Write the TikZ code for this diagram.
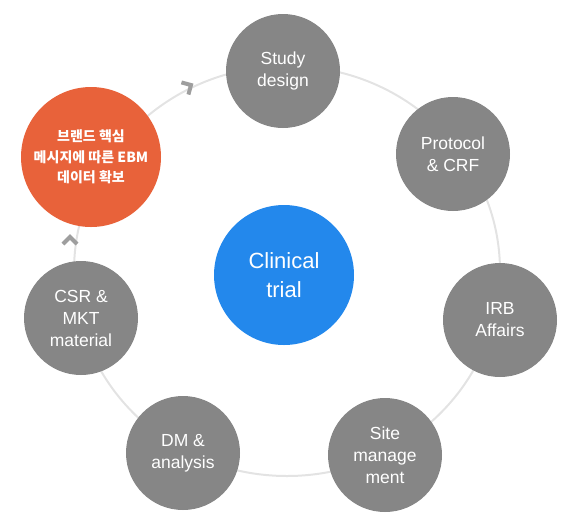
\documentclass[tikz,border=0pt]{standalone}
\usepackage{fontspec}
\setmainfont{Liberation Sans}
\newfontfamily\krfont{Noto Sans CJK KR}
\usetikzlibrary{positioning}
\definecolor{stagegray}{HTML}{868686}
\definecolor{brandorange}{HTML}{E8623A}
\definecolor{trialblue}{HTML}{2388EC}
\definecolor{ringgray}{HTML}{E3E3E3}
\tikzset{
	stage/.style={circle,fill=stagegray,text=white,minimum size=114pt,inner sep=0pt,align=center,font=\fontsize{17.5}{22}\selectfont},
	brand/.style={circle,fill=brandorange,text=white,minimum size=140pt,inner sep=0pt,align=center,font=\krfont\bfseries\fontsize{14}{20.5}\selectfont},
	hub/.style={circle,fill=trialblue,text=white,minimum size=140pt,inner sep=0pt,align=center,font=\fontsize{22}{29}\selectfont},
	ring/.style={ringgray,line width=2pt},
	chevron/.style={stagegray!80,line width=4pt,line join=miter,line cap=butt}
}

\begin{document}
\begin{tikzpicture}[x=1pt,y=-1pt]
	\useasboundingbox (0,0) rectangle (570,523);
	
	% -------------------------------------------------
	% 1. Ring behind the stages
	% -------------------------------------------------
	\coordinate (C) at (287,271);
	\draw[ring] (C) ellipse[x radius=213,y radius=205];
	
	% -------------------------------------------------
	% 2. Direction marks on the ring
	% -------------------------------------------------
	\begin{scope}[shift={(70,237)}]
		\draw[chevron] (-7,7) -- (0,0) -- (7,7);
	\end{scope}
	\begin{scope}[shift={(191,85)}, rotate=-60]
		\draw[chevron] (-7,7) -- (0,0) -- (7,7);
	\end{scope}
	
	% -------------------------------------------------
	% 3. Stages
	% -------------------------------------------------
	\node[stage] (study)    at (283,71)  {Study\\design};
	\node[stage] (protocol) at (453,154) {Protocol\\\& CRF};
	\node[stage] (irb)      at (500,320) {IRB\\Affairs};
	\node[stage] (site)     at (385,455) {Site\\manage\\ment};
	\node[stage] (dm)       at (183,453) {DM \&\\analysis};
	\node[stage] (csr)      at (81,318)  {CSR \&\\MKT\\material};
	
	% -------------------------------------------------
	% 4. Brand message and hub
	% -------------------------------------------------
	\node[brand] (brand) at (91,157) {브랜드 핵심\\메시지에 따른 EBM\\데이터 확보};
	\node[hub]   (trial) at (284,275) {Clinical\\trial};
	
\end{tikzpicture}
\end{document}
